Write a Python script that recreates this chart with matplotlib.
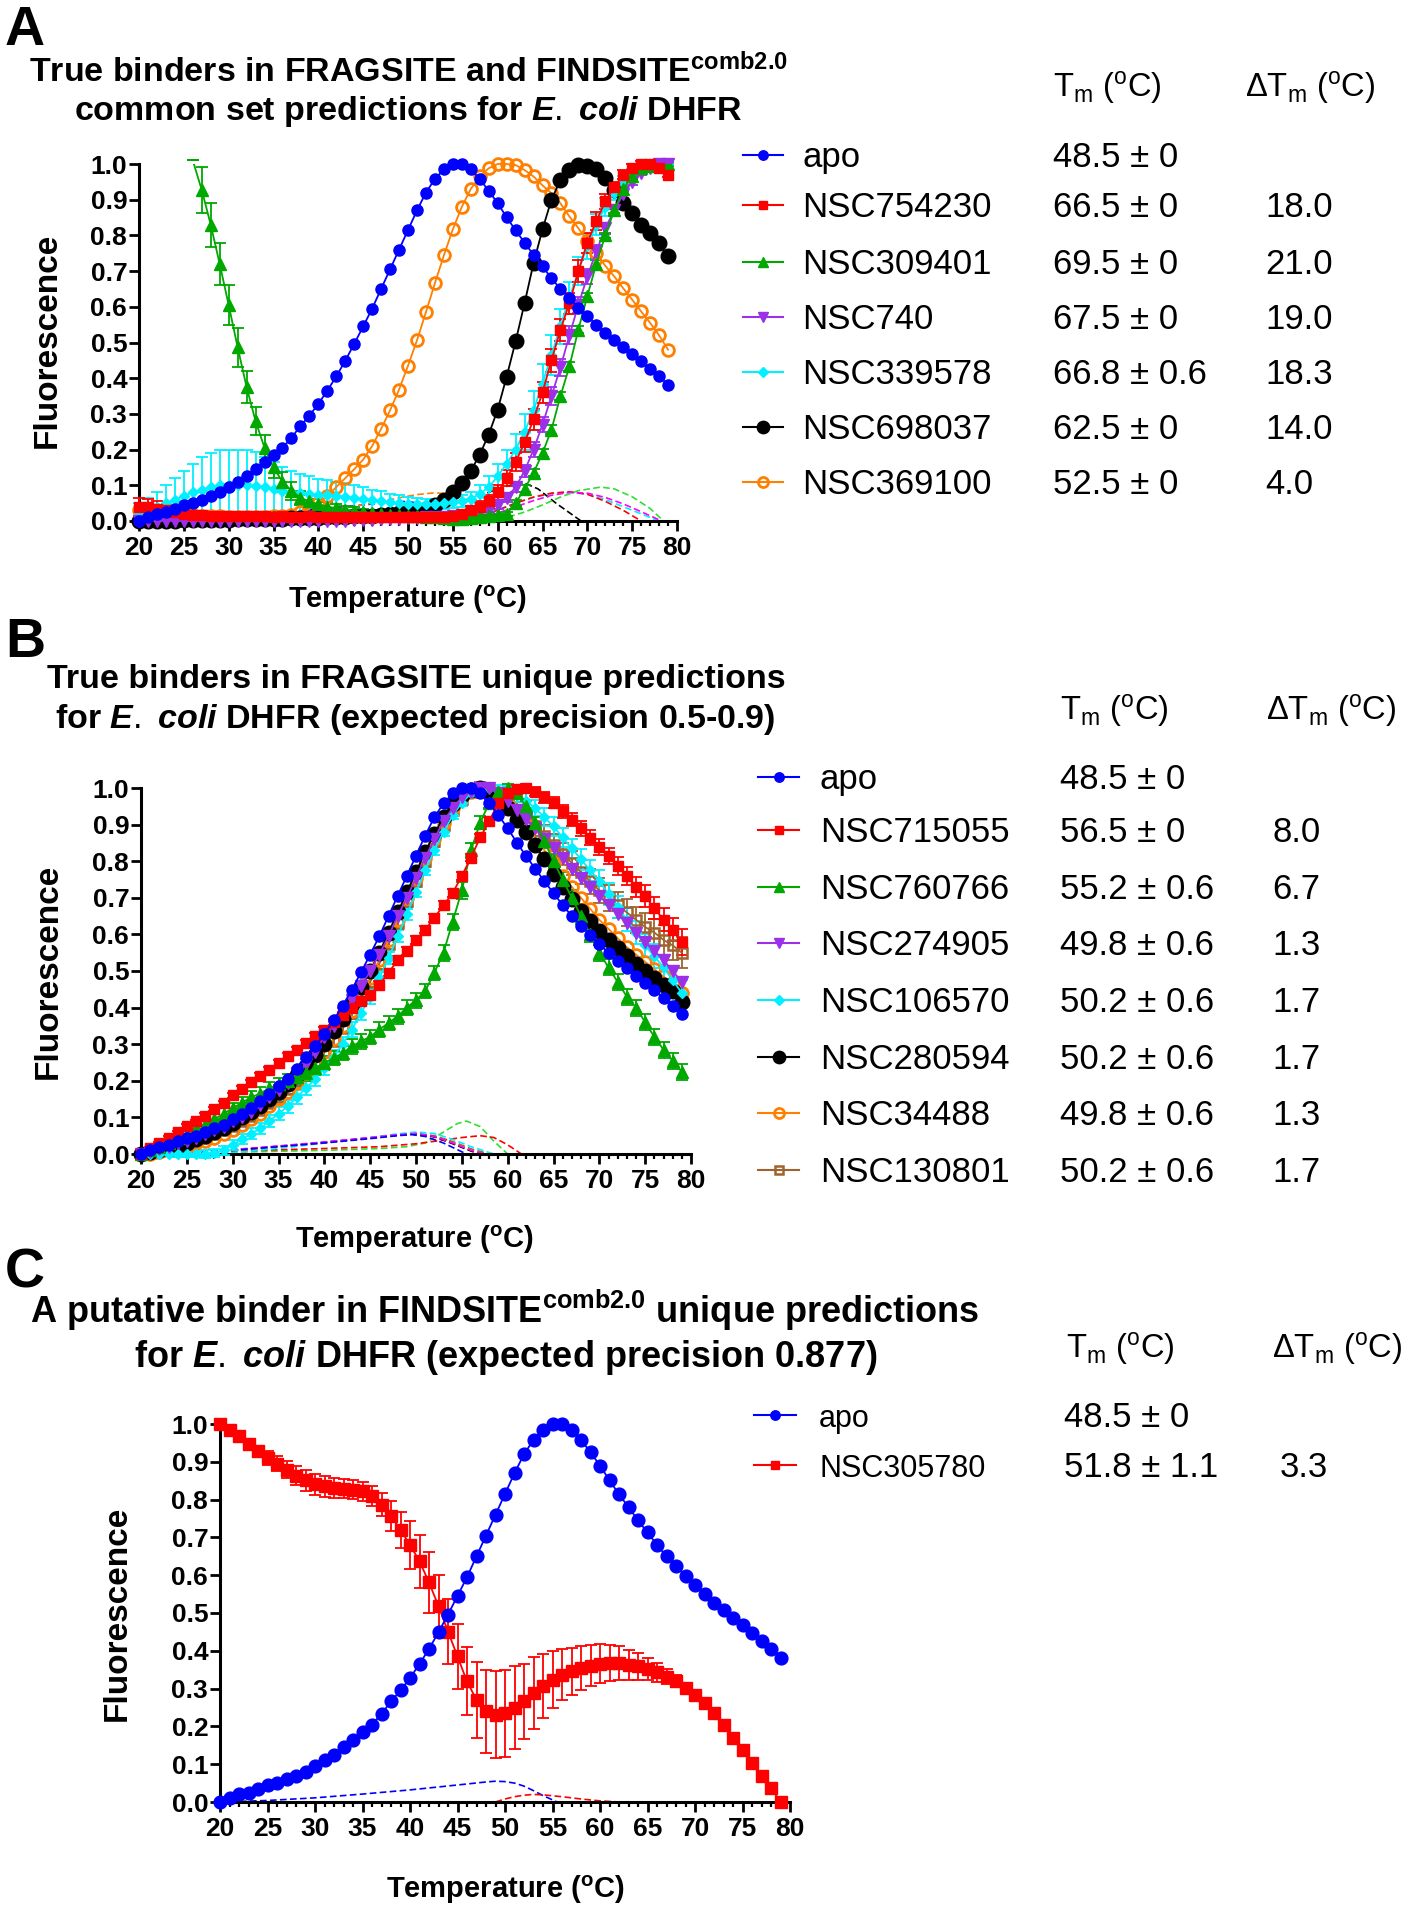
import matplotlib
matplotlib.use("Agg")
import matplotlib.pyplot as plt
from matplotlib.lines import Line2D
from matplotlib.patches import Rectangle

NAN = float("nan")
TEMPS = list(range(20, 80))
XTICKS = [20, 25, 30, 35, 40, 45, 50, 55, 60, 65, 70, 75, 80]
YTICKS = [0.0, 0.1, 0.2, 0.3, 0.4, 0.5, 0.6, 0.7, 0.8, 0.9, 1.0]

# apo curve, shared by all three panels
APO = [0.00, 0.01, 0.02, 0.025, 0.035, 0.045, 0.05, 0.06, 0.07, 0.08,
       0.095, 0.11, 0.125, 0.145, 0.165, 0.185, 0.205, 0.233, 0.266, 0.295,
       0.328, 0.365, 0.405, 0.449, 0.496, 0.545, 0.595, 0.65, 0.705, 0.76,
       0.815, 0.87, 0.92, 0.958, 0.985, 1.0, 1.0, 0.985, 0.958, 0.925,
       0.89, 0.851, 0.814, 0.78, 0.745, 0.713, 0.68, 0.65, 0.624, 0.598,
       0.573, 0.55, 0.527, 0.508, 0.487, 0.468, 0.447, 0.426, 0.405, 0.382]

# ---------------- panel A ----------------
A_RED = [0.04, 0.04, 0.035, 0.03, 0.025, 0.02, 0.018, 0.016, 0.015, 0.014,
         0.014, 0.013, 0.013, 0.014, 0.013, 0.012, 0.013, 0.012, 0.012, 0.013,
         0.012, 0.012, 0.011, 0.012, 0.011, 0.011, 0.010, 0.011, 0.010, 0.010,
         0.010, 0.010, 0.011, 0.011, 0.012, 0.014, 0.02, 0.03, 0.04, 0.055,
         0.08, 0.12, 0.165, 0.22, 0.285, 0.36, 0.45, 0.535, 0.61, 0.70,
         0.78, 0.84, 0.895, 0.935, 0.97, 0.99, 1.0, 1.0, 0.99, 0.97]
A_RED_ERR = [0.025, 0.022, 0.02, 0.015, 0.012, 0.01, 0.008, 0.006, 0.005, 0.005,
             0.005, 0.005, 0.005, 0.005, 0.005, 0.005, 0.005, 0.005, 0.005, 0.005,
             0.005, 0.005, 0.005, 0.005, 0.005, 0.005, 0.005, 0.005, 0.005, 0.005,
             0.005, 0.005, 0.005, 0.005, 0.006, 0.008, 0.01, 0.012, 0.015, 0.018,
             0.02, 0.022, 0.025, 0.028, 0.03, 0.03, 0.032, 0.032, 0.03, 0.03,
             0.028, 0.025, 0.02, 0.015, 0.012, 0.01, 0.008, 0.006, 0.006, 0.006]
A_GREEN = [NAN, NAN, NAN, NAN, NAN, NAN, 1.01, 0.927, 0.83, 0.72,
           0.605, 0.487, 0.375, 0.28, 0.205, 0.15, 0.11, 0.085, 0.065, 0.055,
           0.047, 0.04, 0.036, 0.032, 0.028, 0.025, 0.022, 0.02, 0.018, 0.016,
           0.015, 0.013, 0.012, 0.01, 0.008, 0.007, 0.007, 0.008, 0.01, 0.013,
           0.016, 0.02, 0.05, 0.09, 0.135, 0.19, 0.256, 0.35, 0.433, 0.536,
           0.63, 0.72, 0.80, 0.87, 0.93, 0.965, 0.99, 0.995, 1.0, 1.0]
A_GREEN_ERR = [0, 0, 0, 0, 0, 0, 0, 0.065, 0.062, 0.06,
               0.057, 0.055, 0.045, 0.04, 0.035, 0.03, 0.028, 0.025, 0.02, 0.018,
               0.015, 0.013, 0.012, 0.01, 0.01, 0.008, 0.008, 0.007, 0.006, 0.006,
               0.005, 0.005, 0.005, 0.005, 0.005, 0.005, 0.005, 0.005, 0.005, 0.005,
               0.005, 0.006, 0.008, 0.01, 0.01, 0.012, 0.012, 0.012, 0.012, 0.01,
               0.01, 0.01, 0.008, 0.008, 0.006, 0.005, 0.005, 0.005, 0.005, 0.005]
A_PURPLE = [0.0, 0.0, 0.0, 0.0, 0.0, 0.0, 0.0, 0.0, 0.0, 0.0,
            0.0, 0.0, 0.0, 0.0, 0.0, 0.0, 0.0, 0.0, 0.0, 0.0,
            0.0, 0.0, 0.0, 0.0, 0.002, 0.003, 0.004, 0.005, 0.006, 0.007,
            0.008, 0.009, 0.01, 0.011, 0.012, 0.013, 0.015, 0.02, 0.025, 0.035,
            0.045, 0.065, 0.095, 0.14, 0.2, 0.27, 0.35, 0.43, 0.52, 0.605,
            0.685, 0.755, 0.82, 0.87, 0.915, 0.95, 0.975, 0.99, 1.0, 1.0]
A_PURPLE_ERR = [0.003, 0.003, 0.003, 0.003, 0.003, 0.003, 0.003, 0.003, 0.003, 0.003,
                0.003, 0.003, 0.003, 0.003, 0.003, 0.003, 0.003, 0.003, 0.003, 0.003,
                0.003, 0.003, 0.003, 0.003, 0.003, 0.003, 0.003, 0.003, 0.003, 0.003,
                0.003, 0.003, 0.004, 0.004, 0.005, 0.005, 0.006, 0.007, 0.008, 0.009,
                0.01, 0.012, 0.015, 0.018, 0.02, 0.022, 0.025, 0.025, 0.025, 0.022,
                0.02, 0.018, 0.015, 0.012, 0.01, 0.008, 0.006, 0.005, 0.004, 0.004]
A_CYAN = [0.02, 0.03, 0.04, 0.05, 0.06, 0.07, 0.08, 0.088, 0.095, 0.1,
          0.1, 0.1, 0.1, 0.098, 0.095, 0.09, 0.085, 0.08, 0.078, 0.076,
          0.074, 0.072, 0.07, 0.068, 0.065, 0.062, 0.058, 0.055, 0.052, 0.05,
          0.048, 0.047, 0.047, 0.048, 0.05, 0.052, 0.056, 0.062, 0.075, 0.095,
          0.125, 0.16, 0.2, 0.25, 0.31, 0.385, 0.465, 0.545, 0.625, 0.70,
          0.77, 0.83, 0.88, 0.92, 0.95, 0.975, 0.99, 1.0, 1.0, 1.0]
A_CYAN_ERR = [0.03, 0.035, 0.04, 0.05, 0.06, 0.07, 0.08, 0.09, 0.095, 0.1,
              0.1, 0.1, 0.1, 0.095, 0.085, 0.075, 0.065, 0.06, 0.055, 0.05,
              0.045, 0.042, 0.04, 0.038, 0.035, 0.032, 0.03, 0.028, 0.025, 0.022,
              0.02, 0.018, 0.016, 0.015, 0.015, 0.016, 0.018, 0.02, 0.025, 0.03,
              0.035, 0.04, 0.045, 0.05, 0.055, 0.055, 0.055, 0.05, 0.045, 0.04,
              0.035, 0.03, 0.025, 0.02, 0.015, 0.01, 0.008, 0.006, 0.005, 0.005]
A_BLACK = [0.0, 0.0, 0.0, 0.001, 0.001, 0.002, 0.002, 0.003, 0.003, 0.004,
           0.004, 0.005, 0.005, 0.006, 0.006, 0.007, 0.007, 0.008, 0.008, 0.009,
           0.009, 0.01, 0.011, 0.012, 0.013, 0.014, 0.015, 0.017, 0.019, 0.022,
           0.025, 0.03, 0.035, 0.045, 0.06, 0.08, 0.107, 0.14, 0.186, 0.242,
           0.312, 0.404, 0.503, 0.61, 0.722, 0.817, 0.90, 0.955, 0.983, 0.997,
           0.993, 0.985, 0.96, 0.927, 0.89, 0.862, 0.83, 0.806, 0.778, 0.741]
A_ORANGE = [0.03, 0.028, 0.025, 0.022, 0.02, 0.018, 0.016, 0.015, 0.014, 0.013,
            0.012, 0.012, 0.012, 0.012, 0.012, 0.013, 0.015, 0.018, 0.025, 0.035,
            0.05, 0.07, 0.095, 0.12, 0.145, 0.172, 0.21, 0.258, 0.31, 0.368,
            0.435, 0.506, 0.585, 0.666, 0.744, 0.817, 0.88, 0.93, 0.965, 0.988,
            1.0, 1.0, 0.997, 0.983, 0.965, 0.94, 0.918, 0.89, 0.853, 0.82,
            0.785, 0.75, 0.715, 0.685, 0.652, 0.62, 0.587, 0.555, 0.52, 0.48]

# dashed curves under panel A (temperature, value)
A_FIT_BLUE_X = [20, 25, 30, 35, 40, 45, 48, 50, 52, 54, 55.5]
A_FIT_BLUE_Y = [0.0, 0.004, 0.012, 0.022, 0.033, 0.045, 0.053, 0.055, 0.045, 0.02, 0.0]
A_FIT_ORANGE_X = [20, 30, 38, 42, 46, 49, 51, 53, 55, 57, 59, 61]
A_FIT_ORANGE_Y = [0.0, 0.005, 0.02, 0.033, 0.05, 0.065, 0.074, 0.079, 0.075, 0.058, 0.03, 0.0]
A_FIT_BLACK_X = [48, 52, 55, 58, 60, 62, 63, 64.5, 66.5, 69.3]
A_FIT_BLACK_Y = [0.02, 0.03, 0.045, 0.07, 0.09, 0.104, 0.106, 0.09, 0.05, 0.0]
A_FIT_RED_X = [56, 58, 60, 62, 64, 66, 68, 70, 72, 74, 76]
A_FIT_RED_Y = [0.0, 0.012, 0.03, 0.05, 0.067, 0.078, 0.082, 0.075, 0.055, 0.03, 0.0]
A_FIT_MAGENTA_X = [57, 60, 62, 64, 66, 68, 70, 72, 74, 76, 78.3]
A_FIT_MAGENTA_Y = [0.0, 0.022, 0.04, 0.057, 0.072, 0.08, 0.078, 0.066, 0.048, 0.026, 0.0]
A_FIT_CYAN_X = [56, 58, 60, 62, 64, 66, 68, 70, 72, 74, 76, 78]
A_FIT_CYAN_Y = [0.0, 0.015, 0.032, 0.05, 0.066, 0.077, 0.08, 0.075, 0.06, 0.04, 0.02, 0.0]
A_FIT_GREEN_X = [59, 61, 63, 65, 67, 69, 71.5, 73, 75, 77, 78.5]
A_FIT_GREEN_Y = [0.0, 0.01, 0.025, 0.045, 0.067, 0.085, 0.095, 0.09, 0.068, 0.035, 0.0]

A_NAMES = ["apo", "NSC754230", "NSC309401", "NSC740", "NSC339578", "NSC698037", "NSC369100"]
A_TM = ["48.5 ± 0", "66.5 ± 0", "69.5 ± 0", "67.5 ± 0", "66.8 ± 0.6", "62.5 ± 0", "52.5 ± 0"]
A_DTM = ["", "18.0", "21.0", "19.0", "18.3", "14.0", "4.0"]

# ---------------- panel B ----------------
B_RED = [0.0, 0.016, 0.03, 0.044, 0.059, 0.076, 0.089, 0.105, 0.123, 0.14,
         0.16, 0.178, 0.196, 0.214, 0.23, 0.249, 0.267, 0.285, 0.303, 0.322,
         0.34, 0.36, 0.38, 0.40, 0.418, 0.435, 0.463, 0.495, 0.53, 0.555,
         0.585, 0.613, 0.645, 0.68, 0.713, 0.76, 0.81, 0.865, 0.91, 0.96,
         0.986, 0.997, 1.0, 0.99, 0.975, 0.96, 0.936, 0.913, 0.89, 0.864,
         0.839, 0.814, 0.787, 0.759, 0.73, 0.704, 0.672, 0.64, 0.613, 0.58]
B_RED_ERR = [0.003, 0.003, 0.004, 0.004, 0.005, 0.005, 0.005, 0.006, 0.006, 0.006,
             0.006, 0.007, 0.007, 0.007, 0.007, 0.008, 0.008, 0.008, 0.008, 0.008,
             0.008, 0.008, 0.008, 0.008, 0.009, 0.009, 0.009, 0.009, 0.01, 0.01,
             0.01, 0.01, 0.01, 0.01, 0.01, 0.01, 0.01, 0.01, 0.01, 0.01,
             0.01, 0.01, 0.012, 0.012, 0.015, 0.015, 0.018, 0.018, 0.02, 0.02,
             0.022, 0.022, 0.025, 0.025, 0.028, 0.03, 0.03, 0.032, 0.032, 0.035]
B_GREEN = [0.0, 0.01, 0.02, 0.03, 0.045, 0.055, 0.07, 0.08, 0.095, 0.11,
           0.125, 0.14, 0.155, 0.165, 0.18, 0.19, 0.2, 0.21, 0.22, 0.235,
           0.249, 0.262, 0.276, 0.294, 0.308, 0.32, 0.34, 0.358, 0.376, 0.40,
           0.42, 0.445, 0.495, 0.55, 0.635, 0.72, 0.83, 0.905, 0.96, 0.99,
           1.0, 0.985, 0.95, 0.905, 0.855, 0.80, 0.75, 0.70, 0.65, 0.60,
           0.55, 0.51, 0.47, 0.43, 0.40, 0.36, 0.32, 0.285, 0.255, 0.225]
B_GREEN_ERR = [0.003, 0.005, 0.006, 0.008, 0.01, 0.01, 0.012, 0.012, 0.014, 0.015,
               0.015, 0.016, 0.017, 0.018, 0.018, 0.018, 0.019, 0.019, 0.02, 0.02,
               0.02, 0.02, 0.02, 0.02, 0.02, 0.02, 0.02, 0.02, 0.02, 0.02,
               0.02, 0.02, 0.02, 0.022, 0.022, 0.022, 0.02, 0.018, 0.015, 0.01,
               0.01, 0.012, 0.014, 0.016, 0.018, 0.02, 0.02, 0.02, 0.022, 0.022,
               0.022, 0.022, 0.022, 0.022, 0.022, 0.022, 0.022, 0.022, 0.022, 0.022]
B_PURPLE = [0.0, 0.005, 0.015, 0.02, 0.03, 0.035, 0.045, 0.055, 0.065, 0.075,
            0.09, 0.10, 0.115, 0.135, 0.155, 0.175, 0.195, 0.22, 0.245, 0.28,
            0.32, 0.35, 0.385, 0.42, 0.46, 0.50, 0.545, 0.595, 0.65, 0.70,
            0.755, 0.81, 0.86, 0.91, 0.945, 0.975, 0.99, 1.0, 1.0, 0.985,
            0.965, 0.94, 0.915, 0.89, 0.86, 0.835, 0.81, 0.78, 0.755, 0.73,
            0.705, 0.68, 0.655, 0.63, 0.605, 0.58, 0.555, 0.53, 0.50, 0.47]
B_CYAN = [0.0, 0.0, 0.0, 0.0, 0.0, 0.0, 0.0, 0.0, 0.003, 0.01,
          0.025, 0.04, 0.055, 0.07, 0.09, 0.11, 0.13, 0.155, 0.18, 0.205,
          0.235, 0.265, 0.30, 0.34, 0.385, 0.43, 0.48, 0.535, 0.595, 0.655,
          0.715, 0.775, 0.83, 0.88, 0.925, 0.96, 0.985, 1.0, 1.0, 0.995,
          0.99, 0.98, 0.965, 0.945, 0.92, 0.895, 0.865, 0.835, 0.805, 0.775,
          0.745, 0.71, 0.675, 0.64, 0.605, 0.57, 0.54, 0.51, 0.475, 0.44]
B_CYAN_ERR = [0.003, 0.004, 0.005, 0.006, 0.007, 0.008, 0.009, 0.01, 0.011, 0.012,
              0.013, 0.014, 0.015, 0.016, 0.017, 0.018, 0.018, 0.019, 0.02, 0.02,
              0.02, 0.02, 0.02, 0.02, 0.02, 0.02, 0.018, 0.017, 0.016, 0.015,
              0.014, 0.013, 0.012, 0.011, 0.01, 0.01, 0.01, 0.01, 0.012, 0.014,
              0.016, 0.018, 0.02, 0.022, 0.024, 0.025, 0.026, 0.027, 0.028, 0.029,
              0.03, 0.03, 0.031, 0.031, 0.032, 0.032, 0.033, 0.033, 0.034, 0.035]
B_BLACK = [0.0, 0.005, 0.01, 0.015, 0.02, 0.03, 0.04, 0.05, 0.06, 0.07,
           0.085, 0.10, 0.115, 0.13, 0.15, 0.17, 0.19, 0.215, 0.24, 0.27,
           0.30, 0.335, 0.37, 0.41, 0.455, 0.50, 0.55, 0.605, 0.66, 0.715,
           0.77, 0.825, 0.875, 0.92, 0.955, 0.98, 0.995, 1.0, 0.985, 0.965,
           0.945, 0.913, 0.88, 0.845, 0.805, 0.765, 0.73, 0.697, 0.665, 0.636,
           0.61, 0.585, 0.563, 0.54, 0.52, 0.50, 0.48, 0.463, 0.444, 0.415]
B_ORANGE = [0.0, 0.0, 0.005, 0.01, 0.015, 0.02, 0.03, 0.035, 0.045, 0.055,
            0.065, 0.08, 0.095, 0.11, 0.13, 0.15, 0.17, 0.195, 0.22, 0.25,
            0.28, 0.315, 0.35, 0.39, 0.435, 0.48, 0.53, 0.585, 0.64, 0.70,
            0.755, 0.81, 0.86, 0.905, 0.945, 0.975, 0.99, 1.0, 0.99, 0.975,
            0.955, 0.93, 0.90, 0.865, 0.83, 0.795, 0.76, 0.73, 0.70, 0.67,
            0.64, 0.615, 0.59, 0.565, 0.545, 0.525, 0.505, 0.485, 0.465, 0.44]
B_BROWN = [0.0, 0.003, 0.008, 0.013, 0.02, 0.027, 0.035, 0.045, 0.055, 0.065,
           0.077, 0.09, 0.105, 0.12, 0.138, 0.157, 0.177, 0.2, 0.225, 0.25,
           0.28, 0.31, 0.345, 0.385, 0.425, 0.47, 0.52, 0.575, 0.63, 0.69,
           0.745, 0.80, 0.855, 0.90, 0.94, 0.97, 0.99, 1.0, 0.995, 0.98,
           0.96, 0.94, 0.92, 0.895, 0.87, 0.845, 0.82, 0.795, 0.77, 0.745,
           0.72, 0.70, 0.68, 0.66, 0.64, 0.62, 0.605, 0.585, 0.57, 0.55]
B_BROWN_ERR = [0.003, 0.004, 0.005, 0.006, 0.007, 0.008, 0.008, 0.009, 0.009, 0.01,
               0.01, 0.01, 0.011, 0.011, 0.012, 0.012, 0.012, 0.013, 0.013, 0.013,
               0.014, 0.014, 0.014, 0.015, 0.015, 0.015, 0.015, 0.015, 0.015, 0.015,
               0.015, 0.015, 0.015, 0.015, 0.015, 0.015, 0.016, 0.017, 0.018, 0.019,
               0.02, 0.022, 0.024, 0.026, 0.028, 0.03, 0.03, 0.032, 0.032, 0.034,
               0.034, 0.035, 0.035, 0.036, 0.036, 0.038, 0.038, 0.04, 0.04, 0.042]

B_FIT_BLUE_X = [20, 25, 30, 35, 40, 45, 48, 49.5, 51, 53, 55, 55.5]
B_FIT_BLUE_Y = [0.0, 0.003, 0.01, 0.02, 0.03, 0.042, 0.05, 0.053, 0.048, 0.03, 0.006, 0.0]
B_FIT_MAGENTA_X = [20, 25, 30, 35, 40, 45, 48, 50, 52, 54, 56, 57.5]
B_FIT_MAGENTA_Y = [0.0, 0.004, 0.012, 0.022, 0.033, 0.045, 0.053, 0.056, 0.048, 0.03, 0.01, 0.0]
B_FIT_CYAN_X = [20, 28, 32, 36, 40, 45, 48, 50, 52, 54, 56, 58.5]
B_FIT_CYAN_Y = [0.0, 0.0, 0.008, 0.018, 0.03, 0.045, 0.055, 0.06, 0.056, 0.04, 0.02, 0.0]
B_FIT_BLACK_X = [20, 25, 30, 35, 40, 45, 48, 50, 52, 54, 56, 57]
B_FIT_BLACK_Y = [0.0, 0.004, 0.011, 0.021, 0.032, 0.044, 0.052, 0.055, 0.047, 0.028, 0.008, 0.0]
B_FIT_ORANGE_X = [20, 25, 30, 35, 40, 45, 48, 50, 52, 54, 56, 57.5]
B_FIT_ORANGE_Y = [0.0, 0.003, 0.01, 0.02, 0.031, 0.043, 0.051, 0.054, 0.047, 0.03, 0.01, 0.0]
B_FIT_BROWN_X = [20, 25, 30, 35, 40, 45, 48, 50, 52, 54, 56, 58]
B_FIT_BROWN_Y = [0.0, 0.003, 0.01, 0.02, 0.031, 0.044, 0.052, 0.056, 0.05, 0.034, 0.014, 0.0]
B_FIT_GREEN_X = [20, 30, 40, 46, 49, 51, 53, 54.5, 55.5, 57, 58.5, 60]
B_FIT_GREEN_Y = [0.0, 0.005, 0.01, 0.015, 0.02, 0.03, 0.06, 0.083, 0.09, 0.075, 0.035, 0.0]
B_FIT_RED_X = [20, 30, 40, 46, 50, 53, 55, 57, 58.5, 60, 61.5]
B_FIT_RED_Y = [0.0, 0.008, 0.015, 0.02, 0.028, 0.038, 0.045, 0.05, 0.045, 0.025, 0.0]

B_NAMES = ["apo", "NSC715055", "NSC760766", "NSC274905", "NSC106570",
           "NSC280594", "NSC34488", "NSC130801"]
B_TM = ["48.5 ± 0", "56.5 ± 0", "55.2 ± 0.6", "49.8 ± 0.6", "50.2 ± 0.6",
        "50.2 ± 0.6", "49.8 ± 0.6", "50.2 ± 0.6"]
B_DTM = ["", "8.0", "6.7", "1.3", "1.7", "1.7", "1.3", "1.7"]

# ---------------- panel C ----------------
C_RED = [1.0, 0.985, 0.967, 0.948, 0.928, 0.91, 0.895, 0.879, 0.863, 0.851,
         0.84, 0.835, 0.831, 0.829, 0.826, 0.822, 0.81, 0.787, 0.756, 0.72,
         0.68, 0.637, 0.581, 0.518, 0.451, 0.385, 0.319, 0.27, 0.24, 0.231,
         0.235, 0.249, 0.266, 0.288, 0.306, 0.324, 0.337, 0.346, 0.355, 0.361,
         0.366, 0.368, 0.368, 0.363, 0.359, 0.352, 0.343, 0.332, 0.319, 0.302,
         0.284, 0.262, 0.235, 0.205, 0.169, 0.138, 0.103, 0.068, 0.037, 0.0]
C_RED_ERR = [0.0, 0.005, 0.008, 0.012, 0.015, 0.018, 0.02, 0.022, 0.025, 0.027,
             0.028, 0.027, 0.026, 0.025, 0.025, 0.025, 0.026, 0.03, 0.04, 0.048,
             0.063, 0.07, 0.08, 0.082, 0.085, 0.085, 0.09, 0.1, 0.11, 0.115,
             0.115, 0.11, 0.1, 0.095, 0.085, 0.075, 0.068, 0.062, 0.058, 0.055,
             0.052, 0.048, 0.045, 0.04, 0.035, 0.03, 0.025, 0.02, 0.016, 0.012,
             0.01, 0.008, 0.007, 0.006, 0.005, 0.005, 0.004, 0.004, 0.003, 0.0]
C_FIT_BLUE_X = [20, 25, 30, 35, 40, 45, 48, 49, 50, 51, 52, 53, 54, 55.5]
C_FIT_BLUE_Y = [0.0, 0.004, 0.011, 0.021, 0.032, 0.045, 0.053, 0.055, 0.054, 0.05,
                0.042, 0.03, 0.017, 0.0]
C_FIT_RED_X = [49, 50, 51, 52, 53, 54, 56, 58, 60, 62]
C_FIT_RED_Y = [0.0, 0.008, 0.014, 0.018, 0.02, 0.019, 0.014, 0.008, 0.003, 0.0]

C_NAMES = ["apo", "NSC305780"]
C_TM = ["48.5 ± 0", "51.8 ± 1.1"]
C_DTM = ["", "3.3"]

# ---------------- styles ----------------
BLUE, RED, GREEN, PURPLE = "#0000FF", "#FF0000", "#00A800", "#9B30E8"
CYAN, BLACK, ORANGE, BROWN = "#00F0FF", "#000000", "#FF7F00", "#A0632E"
MAGENTA, LIME = "#FF00FF", "#33DD33"

STY = {
    "apo": dict(color=BLUE, marker="o", ms=8),
    "red": dict(color=RED, marker="s", ms=7.5),
    "green": dict(color=GREEN, marker="^", ms=8),
    "purple": dict(color=PURPLE, marker="v", ms=8),
    "cyan": dict(color=CYAN, marker="D", ms=5.5),
    "black": dict(color=BLACK, marker="o", ms=10.5),
    "orange": dict(color=ORANGE, marker="o", ms=8.5, mfc="none", mew=2),
    "brown": dict(color=BROWN, marker="s", ms=7.5, mfc="none", mew=1.8),
}

W, H = 1410, 1920
plt.rcParams["font.family"] = ["Liberation Sans", "DejaVu Sans"]
plt.rcParams["mathtext.fontset"] = "custom"
plt.rcParams["mathtext.rm"] = "Liberation Sans"
plt.rcParams["mathtext.bf"] = "Liberation Sans:bold"
plt.rcParams["mathtext.it"] = "Liberation Sans:italic:bold"

fig = plt.figure(figsize=(W / 100, H / 100), dpi=100)


def ftext(x, y, s, **kw):
    return fig.text(x / W, 1 - y / H, s, **kw)


def make_axes(x0, x1, ytop, ybot):
    ax = fig.add_axes([x0 / W, 1 - ybot / H, (x1 - x0) / W, (ybot - ytop) / H])
    ax.patch.set_visible(False)
    ax.set_xlim(20, 80)
    ax.set_ylim(0, 1)
    for sp in ("top", "right"):
        ax.spines[sp].set_visible(False)
    for sp in ("left", "bottom"):
        ax.spines[sp].set_linewidth(2.2)
    ax.set_xticks(XTICKS)
    ax.set_xticklabels([str(t) for t in XTICKS], fontweight="bold", fontsize=19)
    ax.set_xticks(TEMPS[1:] + [80], minor=True)
    ax.set_yticks(YTICKS)
    ax.set_yticklabels([f"{v:.1f}" for v in YTICKS], fontweight="bold", fontsize=19)
    ax.tick_params(which="major", direction="out", length=7, width=2)
    ax.tick_params(axis="x", which="major", pad=4)
    ax.tick_params(axis="y", which="major", pad=1.5)
    ax.tick_params(which="minor", direction="out", length=3.5, width=1.6)
    return ax


def draw_fits(ax, fits):
    for xs, ys, c in fits:
        ax.plot(xs, ys, color=c, lw=1.2, ls=(0, (4, 2)), zorder=2, clip_on=False)


def draw_series(ax, series, ms_scale=1.0):
    # last dataset goes underneath, apo on top
    for ys, err, key in reversed(series):
        st = dict(STY[key])
        st["ms"] = st["ms"] * ms_scale
        if err is not None:
            eb = ax.errorbar(TEMPS, ys, yerr=err, fmt="none", ecolor=st["color"],
                             elinewidth=1.3, capsize=4.5, capthick=1.3, zorder=3)
            for art in eb.lines[1] + eb.lines[2]:
                art.set_clip_on(False)
        mk = [i for i, v in enumerate(ys) if v <= 1.0]
        ln, = ax.plot(TEMPS, ys, lw=1.3, zorder=4, markevery=mk, **st)
        if max(v for v in ys if v == v) > 1.0:
            ln.set_clip_path(Rectangle((15, -0.2), 70, 1.2, transform=ax.transData))
        else:
            ln.set_clip_on(False)


def legend_table(lx0, lx1, x_lab, x_tm, x_dtm, rows, names, tms, dtms, keys,
                 lab_size=25):
    for y, name, tm, dtm, key in zip(rows, names, tms, dtms, keys):
        st = dict(STY[key])
        st["ms"] = st["ms"] * 0.85
        fy = 1 - y / H
        fig.add_artist(Line2D([lx0 / W, (lx0 + lx1) / 2 / W, lx1 / W], [fy, fy, fy],
                              transform=fig.transFigure, lw=1.5, markevery=[1], **st))
        ftext(x_lab, y + 12, name, fontsize=lab_size, va="baseline")
        ftext(x_tm, y + 12, tm, fontsize=25, va="baseline")
        if dtm:
            ftext(x_dtm, y + 12, dtm, fontsize=25, va="baseline")


TM_HEAD = r"T$_{\mathrm{m}}$ ($^{\mathrm{o}}$C)"
DTM_HEAD = r"ΔT$_{\mathrm{m}}$ ($^{\mathrm{o}}$C)"
XLAB = r"Temperature ($^{\mathbf{o}}$C)"
ECOLI = r"$\mathit{E.}$ $\mathit{coli}$"


def axis_labels(ylx, yly, xlx, xly):
    ftext(ylx, yly, "Fluorescence", fontsize=24, fontweight="bold", rotation=90,
          ha="center", va="center")
    ftext(xlx, xly, XLAB, fontsize=21, fontweight="bold", ha="center", va="center")


# ================= panel A =================
ftext(5, 45, "A", fontsize=40, fontweight="bold", va="baseline")
ftext(409, 82, r"True binders in FRAGSITE and FINDSITE$^{\mathbf{comb2.0}}$",
      fontsize=24.5, fontweight="bold", ha="center", va="baseline")
ftext(408, 120, "common set predictions for " + ECOLI + " DHFR",
      fontsize=24.5, fontweight="bold", ha="center", va="baseline")
axA = make_axes(139, 677, 164, 521)
draw_fits(axA, [(A_FIT_BLUE_X, A_FIT_BLUE_Y, BLUE), (A_FIT_ORANGE_X, A_FIT_ORANGE_Y, ORANGE),
                (A_FIT_BLACK_X, A_FIT_BLACK_Y, BLACK), (A_FIT_CYAN_X, A_FIT_CYAN_Y, CYAN),
                (A_FIT_RED_X, A_FIT_RED_Y, RED), (A_FIT_MAGENTA_X, A_FIT_MAGENTA_Y, MAGENTA),
                (A_FIT_GREEN_X, A_FIT_GREEN_Y, LIME)])
draw_series(axA, [(APO, None, "apo"), (A_RED, A_RED_ERR, "red"),
                  (A_GREEN, A_GREEN_ERR, "green"), (A_PURPLE, A_PURPLE_ERR, "purple"),
                  (A_CYAN, A_CYAN_ERR, "cyan"), (A_BLACK, None, "black"),
                  (A_ORANGE, None, "orange")])
axis_labels(47, 340, 408, 600)
ftext(1053, 97, TM_HEAD, fontsize=23.5, va="baseline")
ftext(1245, 97, DTM_HEAD, fontsize=23.5, va="baseline")
legend_table(743, 783, 802, 1053, 1265, [155, 205, 262, 317, 372, 427, 482],
             A_NAMES, A_TM, A_DTM,
             ["apo", "red", "green", "purple", "cyan", "black", "orange"])

# ================= panel B =================
ftext(5, 657, "B", fontsize=40, fontweight="bold", va="baseline")
ftext(416, 688, "True binders in FRAGSITE unique predictions",
      fontsize=24.5, fontweight="bold", ha="center", va="baseline")
ftext(415, 728, "for " + ECOLI + " DHFR (expected precision 0.5-0.9)",
      fontsize=24.5, fontweight="bold", ha="center", va="baseline")
axB = make_axes(141, 691, 788, 1154)
draw_fits(axB, [(B_FIT_GREEN_X, B_FIT_GREEN_Y, LIME), (B_FIT_RED_X, B_FIT_RED_Y, RED),
                (B_FIT_BROWN_X, B_FIT_BROWN_Y, BROWN), (B_FIT_ORANGE_X, B_FIT_ORANGE_Y, ORANGE),
                (B_FIT_BLACK_X, B_FIT_BLACK_Y, BLACK), (B_FIT_CYAN_X, B_FIT_CYAN_Y, CYAN),
                (B_FIT_MAGENTA_X, B_FIT_MAGENTA_Y, MAGENTA), (B_FIT_BLUE_X, B_FIT_BLUE_Y, BLUE)])
draw_series(axB, [(APO, None, "apo"), (B_RED, B_RED_ERR, "red"),
                  (B_GREEN, B_GREEN_ERR, "green"), (B_PURPLE, None, "purple"),
                  (B_CYAN, B_CYAN_ERR, "cyan"), (B_BLACK, None, "black"),
                  (B_ORANGE, None, "orange"), (B_BROWN, B_BROWN_ERR, "brown")])
axis_labels(48, 971, 415, 1240)
ftext(1060, 720, TM_HEAD, fontsize=23.5, va="baseline")
ftext(1266, 720, DTM_HEAD, fontsize=23.5, va="baseline")
legend_table(758, 799, 820, 1060, 1272, [777, 830, 887, 943, 1000, 1057, 1113, 1170],
             B_NAMES, B_TM, B_DTM,
             ["apo", "red", "green", "purple", "cyan", "black", "orange", "brown"])

# ================= panel C =================
ftext(5, 1287, "C", fontsize=40, fontweight="bold", va="baseline")
ftext(505, 1323, r"A putative binder in FINDSITE$^{\mathbf{comb2.0}}$ unique predictions",
      fontsize=26, fontweight="bold", ha="center", va="baseline")
ftext(506, 1367, "for " + ECOLI + " DHFR (expected precision 0.877)",
      fontsize=26, fontweight="bold", ha="center", va="baseline")
axC = make_axes(220, 790, 1424, 1802)
draw_fits(axC, [(C_FIT_BLUE_X, C_FIT_BLUE_Y, BLUE), (C_FIT_RED_X, C_FIT_RED_Y, RED)])
draw_series(axC, [(APO, None, "apo"), (C_RED, C_RED_ERR, "red")], ms_scale=1.15)
axis_labels(117, 1613, 506, 1890)
ftext(1066, 1358, TM_HEAD, fontsize=23.5, va="baseline")
ftext(1272, 1358, DTM_HEAD, fontsize=23.5, va="baseline")
legend_table(754, 796, 819, 1064, 1280, [1415, 1465], C_NAMES, C_TM, C_DTM,
             ["apo", "red"], lab_size=22)

fig.savefig("out.png", dpi=100)
